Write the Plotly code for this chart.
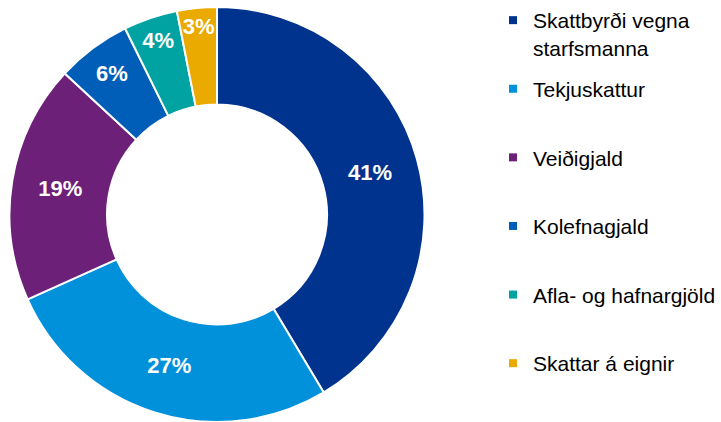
import plotly.graph_objects as go

labels = ["Skattbyrði vegna<br>starfsmanna", "Tekjuskattur", "Veiðigjald",
          "Kolefnagjald", "Afla- og hafnargjöld", "Skattar á eignir"]
values = [41.4, 26.9, 18.6, 5.8, 4.2, 3.1]
colors = ["#00338D", "#0091DA", "#6D2077", "#005EB8", "#00A3A1", "#EAAA00"]

W, H = 721, 422
fig = go.Figure()
fig.add_trace(go.Pie(
    labels=labels, values=values, sort=False, direction="clockwise", rotation=0,
    hole=0.53, marker=dict(colors=colors, line=dict(color="white", width=2)),
    texttemplate="%{percent:.0%}", textposition="inside",
    insidetextorientation="horizontal",
    textfont=dict(family="Liberation Sans, Arial", size=22, color="white", weight="bold"),
    showlegend=False,
    domain=dict(x=[9 / W, 425 / W], y=[0, 415 / H]),
))
for lab, col in zip(labels, colors):
    name = lab if "<br>" in lab else lab + "<br> "
    fig.add_trace(go.Scatter(
        x=[None], y=[None], mode="markers", name=name, legendgroup=lab,
        marker=dict(symbol="square", size=8, color=col),
    ))

fig.update_layout(
    width=W, height=H,
    margin=dict(l=0, r=0, t=0, b=0),
    paper_bgcolor="white", plot_bgcolor="white",
    xaxis=dict(visible=False), yaxis=dict(visible=False),
    uniformtext=dict(minsize=22, mode="show"),
    legend=dict(x=493 / W, xanchor="left", y=1.0, yanchor="top",
                valign="top", tracegroupgap=11,
                font=dict(family="Liberation Sans, Arial", size=21, color="black"),
                bgcolor="rgba(0,0,0,0)"),
)
fig.write_html("out.html", config={"displayModeBar": False},
               post_script="document.body.style.margin='0';")
